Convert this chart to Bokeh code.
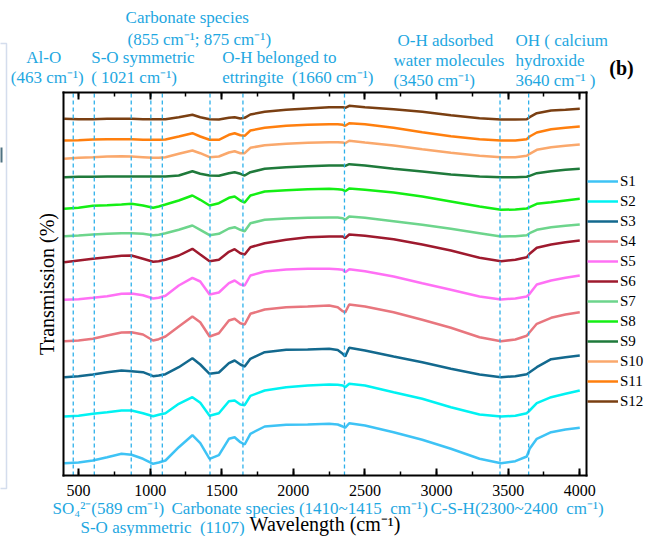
from bokeh.plotting import figure
from bokeh.models import (Range1d, LinearAxis, SingleIntervalTicker, FixedTicker,
                          Label, Legend, LegendItem, PolyAnnotation)
from bokeh.embed import file_html
from bokeh.resources import INLINE

# ---------------- data ----------------
wavenumber = [400, 500, 600, 700, 800, 870, 950, 1021, 1060, 1107, 1200, 1295, 1350, 1415,
              1480, 1550, 1590, 1630, 1660, 1700, 1800, 1950, 2100, 2250, 2310, 2345, 2362, 2390,
              2500, 2700, 2900, 3100, 3300, 3450, 3550, 3630, 3650, 3700, 3800, 3900, 4000]

S1 = [12.3, 13.0, 15.0, 18.3, 21.7, 20.7, 16.7, 11.7, 13.0, 15.0, 28.3, 40.3, 32.3, 16.7,
      20.3, 36.7, 38.3, 33.3, 31.0, 41.7, 49.0, 50.7, 51.0, 51.7, 51.0, 49.0, 47.7, 52.3,
      50.0, 43.3, 35.7, 26.7, 16.7, 12.3, 14.3, 19.0, 26.7, 36.7, 43.3, 46.0, 47.7]
S2 = [59.0, 59.7, 61.7, 63.3, 65.0, 65.0, 62.3, 59.3, 60.7, 62.3, 71.7, 78.3, 72.7, 59.7,
      62.3, 74.3, 75.0, 71.0, 70.3, 79.7, 85.0, 88.3, 90.0, 91.0, 90.7, 90.0, 88.3, 91.7,
      90.0, 83.3, 76.7, 68.3, 61.0, 59.0, 59.7, 62.3, 65.0, 72.3, 78.3, 81.7, 85.0]
S3 = [98.3, 99.3, 101.0, 103.3, 105.0, 104.3, 103.3, 99.3, 100.0, 101.3, 108.3, 117.3, 111.0, 101.7,
      103.0, 112.3, 115.0, 111.0, 109.0, 116.7, 123.3, 125.7, 126.0, 126.7, 125.5, 121.7, 119.0, 127.7,
      125.0, 119.0, 113.3, 106.7, 101.0, 98.3, 99.3, 101.3, 103.3, 108.3, 116.3, 118.3, 120.0]
S4 = [134.3, 135.0, 136.7, 140.0, 143.0, 143.3, 141.0, 135.0, 136.3, 139.0, 149.0, 159.0, 153.3, 139.0,
      142.3, 155.0, 156.7, 152.3, 151.0, 161.7, 166.0, 168.3, 169.0, 170.0, 168.3, 164.3, 163.0, 171.0,
      169.0, 163.3, 155.7, 147.7, 138.3, 134.3, 136.0, 139.7, 143.3, 151.7, 157.7, 161.0, 163.3]
S5 = [175.7, 176.3, 177.7, 179.3, 181.7, 182.0, 180.3, 177.0, 177.7, 179.7, 190.0, 197.7, 194.0, 181.0,
      183.0, 192.3, 195.0, 191.0, 190.0, 200.0, 204.0, 206.0, 206.7, 206.7, 206.3, 205.7, 203.3, 206.3,
      204.3, 199.0, 192.3, 185.7, 179.0, 176.0, 177.0, 179.0, 181.7, 191.0, 195.0, 197.7, 200.0]
S6 = [213.3, 215.0, 216.7, 218.3, 219.7, 220.0, 216.7, 213.7, 214.3, 215.7, 220.0, 226.7, 221.0, 214.3,
      215.7, 223.7, 226.3, 222.3, 221.0, 228.3, 232.3, 235.7, 238.3, 239.0, 239.0, 239.0, 237.3, 241.0,
      239.7, 236.3, 231.0, 225.0, 217.7, 214.3, 215.7, 218.3, 221.7, 227.7, 231.0, 233.3, 235.0]
S7 = [239.3, 240.0, 241.0, 241.7, 242.3, 242.3, 241.7, 240.3, 240.7, 242.3, 245.7, 250.0, 245.7, 240.3,
      241.7, 247.0, 248.3, 245.7, 244.3, 252.3, 255.7, 257.0, 257.7, 258.0, 258.0, 257.3, 255.7, 259.0,
      257.7, 254.3, 250.7, 246.7, 242.3, 239.0, 239.3, 240.3, 242.3, 245.7, 248.3, 249.7, 251.0]
S8 = [266.7, 267.7, 269.7, 270.3, 271.0, 271.7, 270.0, 267.7, 269.0, 271.0, 275.0, 280.0, 275.7, 270.0,
      272.3, 277.7, 279.0, 275.0, 273.0, 280.0, 284.0, 285.3, 286.3, 286.7, 286.3, 285.7, 284.3, 287.0,
      285.7, 283.0, 279.0, 274.0, 269.0, 265.7, 266.0, 267.0, 268.3, 271.7, 273.3, 275.0, 276.7]
S9 = [298.3, 298.7, 298.7, 299.0, 299.0, 299.0, 299.0, 299.0, 299.0, 299.0, 300.0, 304.3, 301.7, 300.0,
      299.7, 302.3, 303.3, 301.7, 300.0, 303.3, 306.7, 308.3, 309.3, 310.0, 310.0, 310.0, 309.7, 311.3,
      310.0, 306.7, 304.0, 301.0, 299.0, 298.3, 298.3, 298.7, 299.7, 302.3, 304.3, 305.7, 306.7]
S10 = [316.7, 317.7, 318.3, 319.0, 319.3, 319.0, 318.3, 317.7, 317.7, 318.3, 321.7, 325.0, 322.3, 318.3,
       319.0, 323.0, 324.3, 322.3, 322.3, 327.7, 330.3, 331.7, 332.7, 333.3, 333.3, 333.0, 332.3, 334.7,
       333.0, 330.0, 326.3, 322.7, 319.7, 318.3, 318.3, 319.7, 321.7, 325.7, 328.3, 329.7, 331.0]
S11 = [335.0, 335.3, 336.0, 336.3, 336.3, 336.3, 335.7, 335.7, 335.7, 336.0, 339.0, 342.3, 339.0, 335.7,
       335.7, 340.7, 342.3, 340.3, 339.7, 345.0, 347.7, 349.7, 350.7, 351.3, 351.3, 350.7, 349.7, 352.3,
       351.3, 347.7, 343.3, 339.3, 336.3, 335.0, 335.0, 336.3, 339.0, 343.0, 346.3, 347.7, 349.0]
S12 = [356.7, 356.3, 356.3, 356.7, 356.7, 356.7, 356.3, 356.3, 356.3, 356.3, 358.3, 360.7, 358.3, 356.3,
       356.0, 357.7, 358.3, 357.0, 357.7, 361.0, 363.7, 365.7, 367.0, 368.3, 368.3, 368.3, 367.7, 369.7,
       368.3, 366.3, 363.7, 360.3, 357.3, 356.0, 356.0, 356.3, 358.3, 362.3, 365.0, 365.7, 366.7]

series = [S1, S2, S3, S4, S5, S6, S7, S8, S9, S10, S11, S12]
series_names = ["S1", "S2", "S3", "S4", "S5", "S6", "S7", "S8", "S9", "S10", "S11", "S12"]
colors = ["#3ec3f5", "#00f2f2", "#13698e", "#e8767e", "#ff70f5", "#9e1a2e",
          "#6dd58c", "#14ef14", "#1f7a3b", "#faa86c", "#ff7f0e", "#7a3f12"]

# band positions marked with dashed lines (cm-1)
band_positions = [463, 610, 868, 1005, 1085, 1418, 1648, 2357, 3443, 3643]

# extent of the plot box in data units
X0, X1 = 395, 4047
Y0, Y1 = 0, 383
x_tick_interval = 500

# ---------------- layout ----------------
W, H = 645, 536
FL, FT, FR, FB = 63, 92, 586, 475          # plot box on the canvas (px)
SERIF = "Liberation Serif"
ANNOT = "#1ea7e1"
NB = "\u00a0"

ux = (X1 - X0) / (FR - FL)
uy = (Y1 - Y0) / (FB - FT)


def sx(cx):
    return cx


def sy(cy):
    return H - cy


p = figure(width=W, height=H, output_backend="svg", toolbar_location=None,
           x_range=Range1d(X0 - FL * ux, X1 + (W - FR) * ux),
           y_range=Range1d(Y0 - (H - FB) * uy, Y1 + FT * uy),
           x_axis_location=None, y_axis_location=None,
           min_border=0, min_border_left=0, min_border_right=0,
           min_border_top=0, min_border_bottom=0)
p.background_fill_color = "white"
p.border_fill_color = "white"
p.outline_line_color = None
p.grid.visible = False


def box_axis(side, loc, bounds, ticker):
    ax = LinearAxis(fixed_location=loc, bounds=bounds, ticker=ticker,
                    axis_line_width=2, axis_line_color="black", axis_line_cap="square",
                    major_tick_line_width=2, minor_tick_line_width=1.5,
                    major_tick_in=7, major_tick_out=0, minor_tick_in=4, minor_tick_out=0,
                    major_label_text_font=SERIF, major_label_text_font_size="16px",
                    major_label_text_color="black",
                    axis_label_text_font=SERIF, axis_label_text_font_size="20px",
                    axis_label_text_font_style="normal", axis_label_text_color="black")
    p.add_layout(ax, side)
    return ax


xa = box_axis("below", Y0, (X0, X1), SingleIntervalTicker(interval=x_tick_interval, num_minor_ticks=2))
xa.axis_label = "Wavelength (cm\u207b\u00b9)"
xa.major_label_standoff = 9
xa.axis_label_standoff = 14

top = box_axis("above", Y1, (X0, X1), SingleIntervalTicker(interval=x_tick_interval, num_minor_ticks=2))
top.major_label_text_color = None

ya = box_axis("left", X0, (Y0, Y1), FixedTicker(ticks=[]))
ya.axis_label = "Transmission (%)"
ya.axis_label_standoff = 6

ra = box_axis("right", X1, (Y0, Y1), FixedTicker(ticks=[]))

# spectra
items = []
for name, ys, col in zip(series_names, series, colors):
    r = p.line(wavenumber, ys, line_color=col, line_width=2.5)
    items.append(LegendItem(label=name, renderers=[r]))

# dashed band markers spanning the plot box
p.segment(x0=band_positions, y0=[Y0] * len(band_positions),
          x1=band_positions, y1=[Y1] * len(band_positions),
          line_color="#2db0ea", line_dash="4 3", line_width=1.3)

legend = Legend(items=items, location=(sx(587), sy(411)), orientation="vertical",
                glyph_width=31, glyph_height=20, label_height=20, spacing=0, padding=0,
                margin=0, label_standoff=2, border_line_color=None, background_fill_alpha=0,
                label_text_font=SERIF, label_text_font_size="15px", label_text_color="black")
p.add_layout(legend)

# annotations: (text, x, y, align)
annotations = [
    ("Carbonate species", 186.7, 17, "center"),
    ("(855 cm\u207b\u00b9; 875 cm\u207b\u00b9)", 198.8, 38.5, "center"),
    ("Al-O", 43.3, 57, "center"),
    ("(463 cm\u207b\u00b9)", 46.7, 77, "center"),
    ("S-O symmetric", 90.7, 57, "left"),
    ("( 1021 cm\u207b\u00b9)", 90.7, 77, "left"),
    ("O-H belonged to", 221.7, 57, "left"),
    ("ettringite" + NB + " (1660 cm\u207b\u00b9)", 221.7, 77, "left"),
    ("O-H adsorbed", 397, 39.5, "left"),
    ("water molecules", 393, 60, "left"),
    ("(3450 cm\u207b\u00b9)", 393, 80, "left"),
    ("OH ( calcium", 515, 39.5, "left"),
    ("hydroxide", 515, 60, "left"),
    ("3640 cm\u207b\u00b9 )", 515, 80, "left"),
    ("SO\u2084\u00b2\u207b(589 cm\u207b\u00b9)", 52, 508, "left"),
    ("Carbonate species (1410~1415" + NB + " cm\u207b\u00b9)", 171, 508, "left"),
    ("C-S-H(2300~2400" + NB + " cm\u207b\u00b9)", 430, 508, "left"),
    ("S-O asymmetric" + NB + " (1107)", 80, 527, "left"),
]
for txt, cx, cy, al in annotations:
    p.add_layout(Label(x=sx(cx), y=sy(cy), x_units="screen", y_units="screen", text=txt,
                       text_font=SERIF, text_font_size="17px", text_color=ANNOT,
                       text_align=al, text_baseline="middle"))

p.add_layout(Label(x=sx(621), y=sy(67), x_units="screen", y_units="screen", text="(b)",
                   text_font=SERIF, text_font_size="20px", text_font_style="bold",
                   text_color="black", text_align="center", text_baseline="middle"))

# neighbouring panel's frame edge at the far left
p.add_layout(PolyAnnotation(xs=[sx(-3), sx(6), sx(6), sx(-3)], ys=[sy(43), sy(43), sy(488), sy(488)],
                            xs_units="screen", ys_units="screen", fill_alpha=0,
                            line_color="#6f8fc2", line_width=1.5))
p.add_layout(PolyAnnotation(xs=[sx(-3), sx(2), sx(2), sx(-3)], ys=[sy(147), sy(147), sy(162), sy(162)],
                            xs_units="screen", ys_units="screen", fill_color="#4f7282", fill_alpha=1,
                            line_color=None))

open("out.html", "w").write(file_html(p, INLINE))
